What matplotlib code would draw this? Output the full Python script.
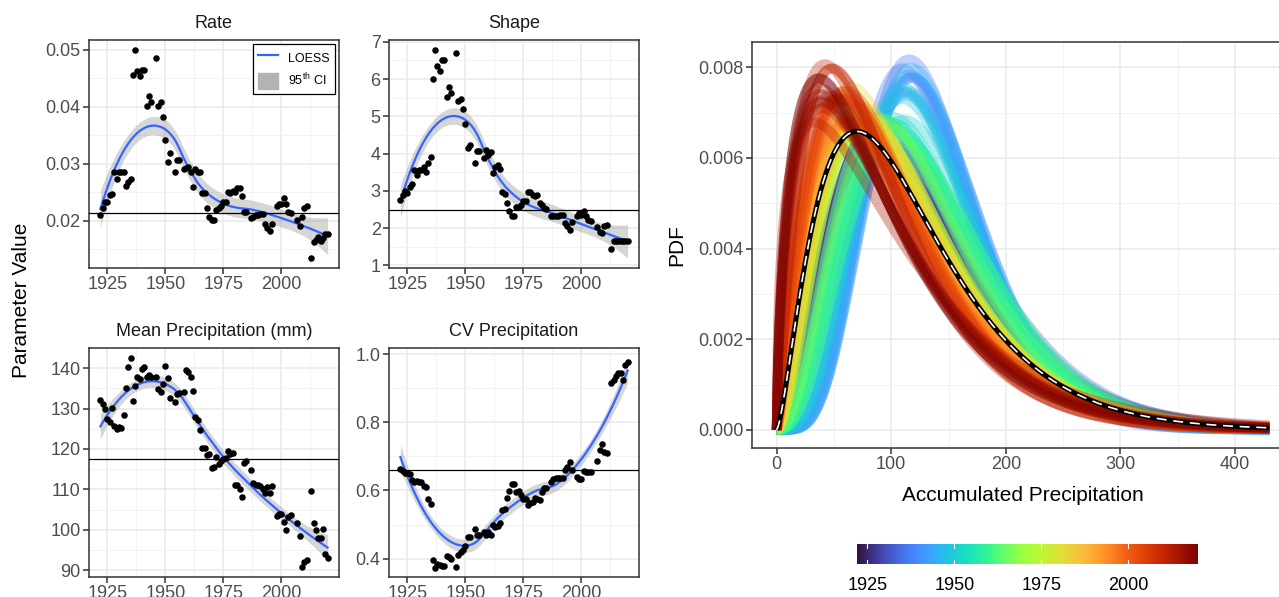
import math
import numpy as np
import matplotlib
matplotlib.use('Agg')
import matplotlib.pyplot as plt
from matplotlib.lines import Line2D
from matplotlib.patches import Patch
from matplotlib.ticker import MultipleLocator, FormatStrFormatter
from matplotlib.cm import ScalarMappable
from matplotlib.colors import Normalize

plt.rcParams['font.family'] = ['Liberation Sans', 'DejaVu Sans']
plt.rcParams['mathtext.fontset'] = 'custom'
plt.rcParams['mathtext.rm'] = 'Liberation Sans'

# years with a fitted distribution (a few years missing in the record)
years = (list(range(1922, 1945)) + list(range(1946, 1953)) + list(range(1954, 1957))
         + list(range(1958, 1986)) + list(range(1987, 1997)) + list(range(1998, 2005))
         + list(range(2007, 2012)) + list(range(2013, 2021)))

rate = [0.0210, 0.0222, 0.0232, 0.0232, 0.0245, 0.0246, 0.0285, 0.0274, 0.0285, 0.0285,
        0.0285, 0.0261, 0.0268, 0.0273, 0.0455, 0.0500, 0.0462, 0.0453, 0.0465, 0.0464,
        0.0401, 0.0418, 0.0408,
        0.0485, 0.0401, 0.0409, 0.0382, 0.0342, 0.0303, 0.0319,
        0.0285, 0.0306, 0.0306,
        0.0290, 0.0293, 0.0294, 0.0286, 0.0259, 0.0290, 0.0286, 0.0285, 0.0248, 0.0248,
        0.0222, 0.0207, 0.0202, 0.0201, 0.0219, 0.0222, 0.0225, 0.0233, 0.0233, 0.0251,
        0.0248, 0.0252, 0.0251, 0.0257, 0.0258, 0.0243, 0.0216, 0.0216,
        0.0204, 0.0207, 0.0210, 0.0210, 0.0211, 0.0211, 0.0195, 0.0188, 0.0182, 0.0195,
        0.0225, 0.0229, 0.0230, 0.0239, 0.0229, 0.0216, 0.0213,
        0.0201, 0.0191, 0.0207, 0.0223, 0.0225,
        0.0134, 0.0162, 0.0166, 0.0172, 0.0165, 0.0169, 0.0177, 0.0177]

shape = [2.76, 2.89, 3.00, 2.95, 3.10, 3.18, 3.56, 3.43, 3.56, 3.56,
         3.65, 3.51, 3.74, 3.90, 6.00, 6.78, 6.36, 6.23, 6.51, 6.51,
         5.53, 5.80, 5.62,
         6.69, 5.41, 5.47, 5.19, 4.80, 4.16, 4.22,
         3.74, 4.08, 4.08,
         3.87, 4.11, 3.96, 4.05, 3.49, 3.65, 3.69, 3.58, 2.96, 2.92,
         2.67, 2.45, 2.33, 2.32, 2.58, 2.58, 2.63, 2.74, 2.74, 2.98,
         2.96, 2.89, 2.85, 2.89, 2.67, 2.63, 2.54, 2.52,
         2.32, 2.32, 2.33, 2.32, 2.36, 2.36, 2.14, 2.05, 1.96, 2.16,
         2.33, 2.40, 2.36, 2.45, 2.32, 2.21, 2.18,
         2.03, 1.89, 1.87, 2.07, 2.09,
         1.44, 1.65, 1.65, 1.65, 1.65, 1.65, 1.65, 1.65]

mean_p = [132.1, 131.1, 130.0, 127.4, 126.8, 130.2, 125.7, 125.0, 125.5, 125.3,
          128.3, 135.2, 140.2, 142.6, 131.9, 135.6, 137.7, 137.4, 139.8, 140.4,
          137.9, 138.3, 137.9,
          137.7, 134.9, 134.2, 136.0, 140.6, 137.5, 132.7,
          131.6, 133.6, 133.8,
          134.2, 139.6, 139.0, 137.7, 134.4, 128.0, 127.2, 124.7, 120.2, 120.3,
          118.6, 118.7, 115.2, 115.6, 118.1, 116.2, 116.9, 117.5, 117.7, 119.5,
          118.7, 118.9, 111.0, 111.1, 110.0, 108.2, 116.6, 116.9,
          114.8, 111.5, 111.2, 111.2, 110.9, 110.2, 109.0, 110.7, 109.0, 110.8,
          103.4, 103.8, 103.8, 102.0, 99.9, 103.2, 103.6,
          101.6, 98.4, 90.8, 91.9, 92.5,
          109.7, 101.6, 99.9, 98.0, 98.0, 100.1, 93.9, 93.1]

cv = [0.663, 0.658, 0.652, 0.650, 0.648, 0.630, 0.625, 0.628, 0.625, 0.625,
      0.614, 0.609, 0.576, 0.561, 0.397, 0.373, 0.385, 0.382, 0.378, 0.378,
      0.408, 0.405, 0.400,
      0.374, 0.412, 0.418, 0.425, 0.437, 0.464, 0.464,
      0.486, 0.469, 0.469,
      0.478, 0.469, 0.478, 0.469, 0.500, 0.493, 0.496, 0.503, 0.542, 0.547,
      0.578, 0.599, 0.618, 0.618, 0.596, 0.598, 0.586, 0.576, 0.576, 0.557,
      0.562, 0.567, 0.578, 0.576, 0.572, 0.596, 0.606, 0.608,
      0.625, 0.635, 0.637, 0.637, 0.637, 0.637, 0.660, 0.670, 0.684, 0.660,
      0.640, 0.633, 0.633, 0.657, 0.655, 0.655, 0.655,
      0.686, 0.719, 0.735, 0.714, 0.709,
      0.915, 0.925, 0.936, 0.944, 0.944, 0.925, 0.969, 0.978]

# fit to the whole record
rate_all = 0.0213
shape_all = 2.49
mean_all = 117.5
cv_all = 0.660

W, H = 1279, 597


def loess(x, y, xg, span=0.75):
    """ local quadratic fit with tricube weights, plus 95% band """
    x = np.asarray(x, float)
    y = np.asarray(y, float)
    n = len(x)
    q = int(math.floor(n * span))

    def row(x0):
        d = np.abs(x - x0)
        h = np.sort(d)[q - 1]
        w = np.clip(1 - (d / h) ** 3, 0, None) ** 3
        X = np.column_stack([np.ones(n), x - x0, (x - x0) ** 2])
        A = X.T @ (w[:, None] * X)
        return np.linalg.solve(A, X.T * w)[0]

    L = np.array([row(v) for v in x])
    res = y - L @ y
    delta1 = n - np.trace(2 * L - L.T @ L)
    sigma = math.sqrt(np.sum(res ** 2) / delta1)
    Lg = np.array([row(v) for v in xg])
    fit = Lg @ y
    se = sigma * np.sqrt(np.sum(Lg ** 2, axis=1))
    return fit, fit - 1.99 * se, fit + 1.99 * se


def gamma_pdf(x, k, r):
    return np.exp((k - 1) * np.log(np.maximum(x, 1e-12)) - r * x
                  + k * math.log(r) - math.lgamma(k))


def style(ax):
    for s in ax.spines.values():
        s.set_color('#333333')
        s.set_linewidth(1.1)
    ax.grid(which='major', color='#EBEBEB', lw=1.2)
    ax.grid(which='minor', color='#F2F2F2', lw=0.7)
    ax.set_axisbelow(True)
    ax.tick_params(which='major', color='#333333', labelcolor='#4D4D4D',
                   length=4, width=1.1, labelsize=13, pad=2)
    ax.tick_params(which='minor', length=0)


def rect(l, t, r, b):
    return [l / W, (H - b) / H, (r - l) / W, (b - t) / H]


fig = plt.figure(figsize=(W / 100, H / 100), dpi=100)

xg = np.linspace(min(years), max(years), 120)

panels = [
    (rect(89, 40, 339, 268), rate, rate_all, 'Rate', (0.0117, 0.0517), 0.01, '%.2f'),
    (rect(389, 40, 639, 268), shape, shape_all, 'Shape', (0.93, 7.05), 1, '%d'),
    (rect(89, 348, 339, 577), mean_p, mean_all, 'Mean Precipitation (mm)', (88.3, 145.0), 10, '%d'),
    (rect(389, 348, 639, 577), cv, cv_all, 'CV Precipitation', (0.346, 1.018), 0.2, '%.1f'),
]

for i, (pos, vals, hl, title, ylim, step, fmt) in enumerate(panels):
    ax = fig.add_axes(pos)
    style(ax)
    fit, lo, hi = loess(years, vals, xg)
    ax.fill_between(xg, lo, hi, color='#999999', alpha=0.4, lw=0, zorder=2)
    ax.plot(xg, fit, color='#3366FF', lw=1.6, zorder=3)
    ax.scatter(years, vals, s=22, color='black', lw=0, zorder=4)
    ax.axhline(hl, color='black', lw=0.9, zorder=5)
    ax.set_xlim(1917.1, 2024.9)
    ax.set_ylim(*ylim)
    ax.xaxis.set_major_locator(MultipleLocator(25))
    ax.xaxis.set_minor_locator(MultipleLocator(12.5))
    ax.yaxis.set_major_locator(MultipleLocator(step))
    ax.yaxis.set_minor_locator(MultipleLocator(step / 2))
    ax.yaxis.set_major_formatter(FormatStrFormatter(fmt))
    ax.set_title(title, fontsize=13, color='#1A1A1A', pad=9)
    if i == 0:
        handles = [Line2D([], [], color='#3366FF', lw=1.6),
                   Patch(facecolor='#B3B3B3', edgecolor='#B3B3B3')]
        leg = ax.legend(handles, ['LOESS', '95$^{\\mathrm{th}}$ CI'], loc='upper right',
                        fontsize=9, frameon=True, fancybox=False, framealpha=1,
                        edgecolor='black', handlelength=1.6, handleheight=1.6,
                        labelspacing=0.5, borderaxespad=0.35, borderpad=0.4)
        leg.get_frame().set_linewidth(0.9)

fig.text(22 / W, (H - 300) / H, 'Parameter Value', rotation=90, ha='center',
         va='center', fontsize=15)

# distribution panel
ax = fig.add_axes(rect(752, 42, 1294, 448))
style(ax)
cmap = plt.get_cmap('turbo')
norm = Normalize(1922, 2020)
xs = np.linspace(0, 430, 400)
for yr, k, r in zip(years, shape, rate):
    ax.plot(xs, gamma_pdf(xs, k, r), color=cmap(norm(yr)), lw=7, alpha=0.35,
            solid_capstyle='butt')
pdf_all = gamma_pdf(xs, shape_all, rate_all)
ax.plot(xs, pdf_all, color='black', lw=3.6, solid_capstyle='butt')
ax.plot(xs, pdf_all, color='white', lw=1.2, dashes=(6, 4))
ax.set_xlim(-21.5, 451.5)
ax.set_ylim(-0.0004, 0.00856)
ax.xaxis.set_major_locator(MultipleLocator(100))
ax.xaxis.set_minor_locator(MultipleLocator(50))
ax.yaxis.set_major_locator(MultipleLocator(0.002))
ax.yaxis.set_minor_locator(MultipleLocator(0.001))
ax.yaxis.set_major_formatter(FormatStrFormatter('%.3f'))
ax.set_xlabel('Accumulated Precipitation', fontsize=15, labelpad=9)
ax.set_ylabel('PDF', fontsize=15, labelpad=9)

cax = fig.add_axes(rect(857, 544, 1198, 564))
cb = fig.colorbar(ScalarMappable(norm=norm, cmap=cmap), cax=cax, orientation='horizontal')
cb.outline.set_visible(False)
cb.set_ticks([1925, 1950, 1975, 2000])
cax.tick_params(length=0, labelsize=13, labelcolor='black', pad=9)
for t in [1925, 1950, 1975, 2000]:
    cax.plot([t, t], [0, 0.2], color='white', lw=0.8)
    cax.plot([t, t], [0.8, 1], color='white', lw=0.8)

fig.savefig('out.png', dpi=100)
